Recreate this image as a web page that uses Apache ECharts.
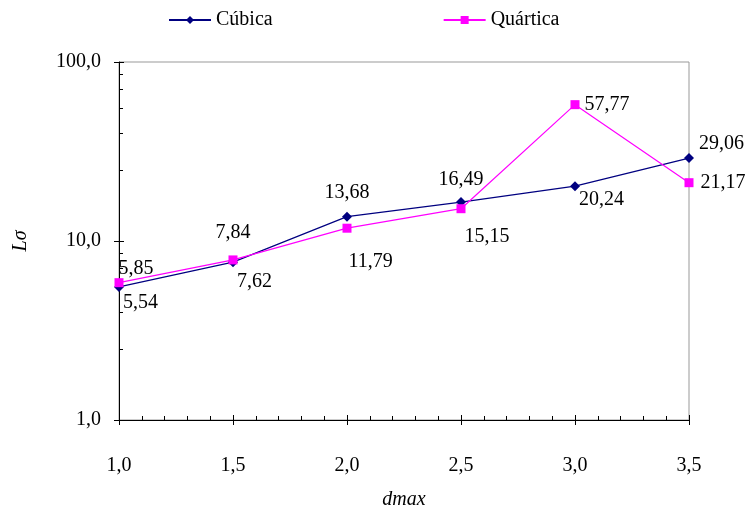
<!DOCTYPE html>
<html><head><meta charset="utf-8">
<script src="https://cdn.jsdelivr.net/npm/echarts@6/dist/echarts.min.js"></script>
<style>html,body{margin:0;padding:0;background:#fff}#c{width:756px;height:512px}</style>
</head><body><div id="c"></div>
<script>
var xValues = [1.0, 1.5, 2.0, 2.5, 3.0, 3.5];
var cubica = [5.54, 7.62, 13.68, 16.49, 20.24, 29.06];
var quartica = [5.85, 7.84, 11.79, 15.15, 57.77, 21.17];
var seriesNames = ['Cúbica', 'Quártica'];

var cubPos = [['right',[-6,16]], ['right',[-6,20]], ['top',[0,-4]], ['top',[0,-2]], ['right',[-6,14]], ['right',[0,-14]]];
var quaPos = [['right',[-10,-14]], ['top',[0,-8]], ['right',[-8,34]], ['right',[-6,28]], ['right',[0,0]], ['right',[2,0]]];

function fmt(v){ return v.toFixed(2).replace('.', ','); }
function build(vals, pos){
  return vals.map(function(v,i){
    return {value:[xValues[i], v], label:{position:pos[i][0], offset:pos[i][1]}};
  });
}
var font = 'Liberation Serif';
var fs = 20;
var lbl1 = function(v){return v.toFixed(1).replace('.',',');};
var chart = echarts.init(document.getElementById('c'));
chart.setOption({
  animation:false,
  textStyle:{fontFamily:font},
  legend:{top:5, left:163, itemGap:170, itemWidth:42, itemHeight:10,
    textStyle:{fontFamily:font, fontSize:fs, color:'#000'}, data:seriesNames},
  grid:{left:119, right:67, top:62, bottom:92, outerBoundsMode:'none', containLabel:false,
    show:true, borderColor:'#999', borderWidth:1, backgroundColor:'#fff'},
  xAxis:[{type:'value', min:1, max:3.5, interval:0.5,
    name:'dmax', nameLocation:'middle', nameGap:70,
    nameTextStyle:{fontFamily:font, fontSize:fs, fontStyle:'italic', color:'#000'},
    axisLine:{lineStyle:{color:'#000', width:1}},
    axisTick:{inside:true, length:5, lineStyle:{color:'#000'}},
    minorTick:{show:true, splitNumber:5, length:4, lineStyle:{color:'#000'}},
    splitLine:{show:false},
    axisLabel:{fontFamily:font, fontSize:fs, color:'#000', margin:36, formatter:lbl1}
  },{type:'value', min:1, max:3.5, interval:0.5, position:'bottom',
    axisLine:{show:false}, axisTick:{inside:false, length:5, lineStyle:{color:'#000'}},
    axisLabel:{show:false}, splitLine:{show:false}}],
  yAxis:[{type:'log', min:1, max:100, logBase:10,
    name:'Lσ', nameLocation:'middle', nameGap:88, nameRotate:90,
    nameTextStyle:{fontFamily:font, fontSize:fs, fontStyle:'italic', color:'#000'},
    axisLine:{show:true, lineStyle:{color:'#000', width:1}},
    axisTick:{show:true, inside:true, length:5, lineStyle:{color:'#000'}},
    minorTick:{show:true, splitNumber:6, length:4, lineStyle:{color:'#000'}},
    splitLine:{show:false},
    axisLabel:{fontFamily:font, fontSize:fs, color:'#000', margin:18, formatter:lbl1}
  },{type:'log', min:1, max:100, logBase:10, position:'left',
    axisLine:{show:false}, axisTick:{show:true, inside:false, length:5, lineStyle:{color:'#000'}},
    axisLabel:{show:false}, splitLine:{show:false}}],
  series:[
    {name:seriesNames[0], type:'line', data:build(cubica, cubPos), symbol:'diamond', symbolSize:10,
      lineStyle:{color:'#000080', width:1.2}, itemStyle:{color:'#000080'},
      label:{show:true, fontFamily:font, fontSize:fs, color:'#000', formatter:function(p){return fmt(p.value[1]);}}},
    {name:seriesNames[1], type:'line', data:build(quartica, quaPos), symbol:'rect', symbolSize:9,
      lineStyle:{color:'#FF00FF', width:1.2}, itemStyle:{color:'#FF00FF'},
      label:{show:true, fontFamily:font, fontSize:fs, color:'#000', formatter:function(p){return fmt(p.value[1]);}}}
  ]
});
</script></body></html>
